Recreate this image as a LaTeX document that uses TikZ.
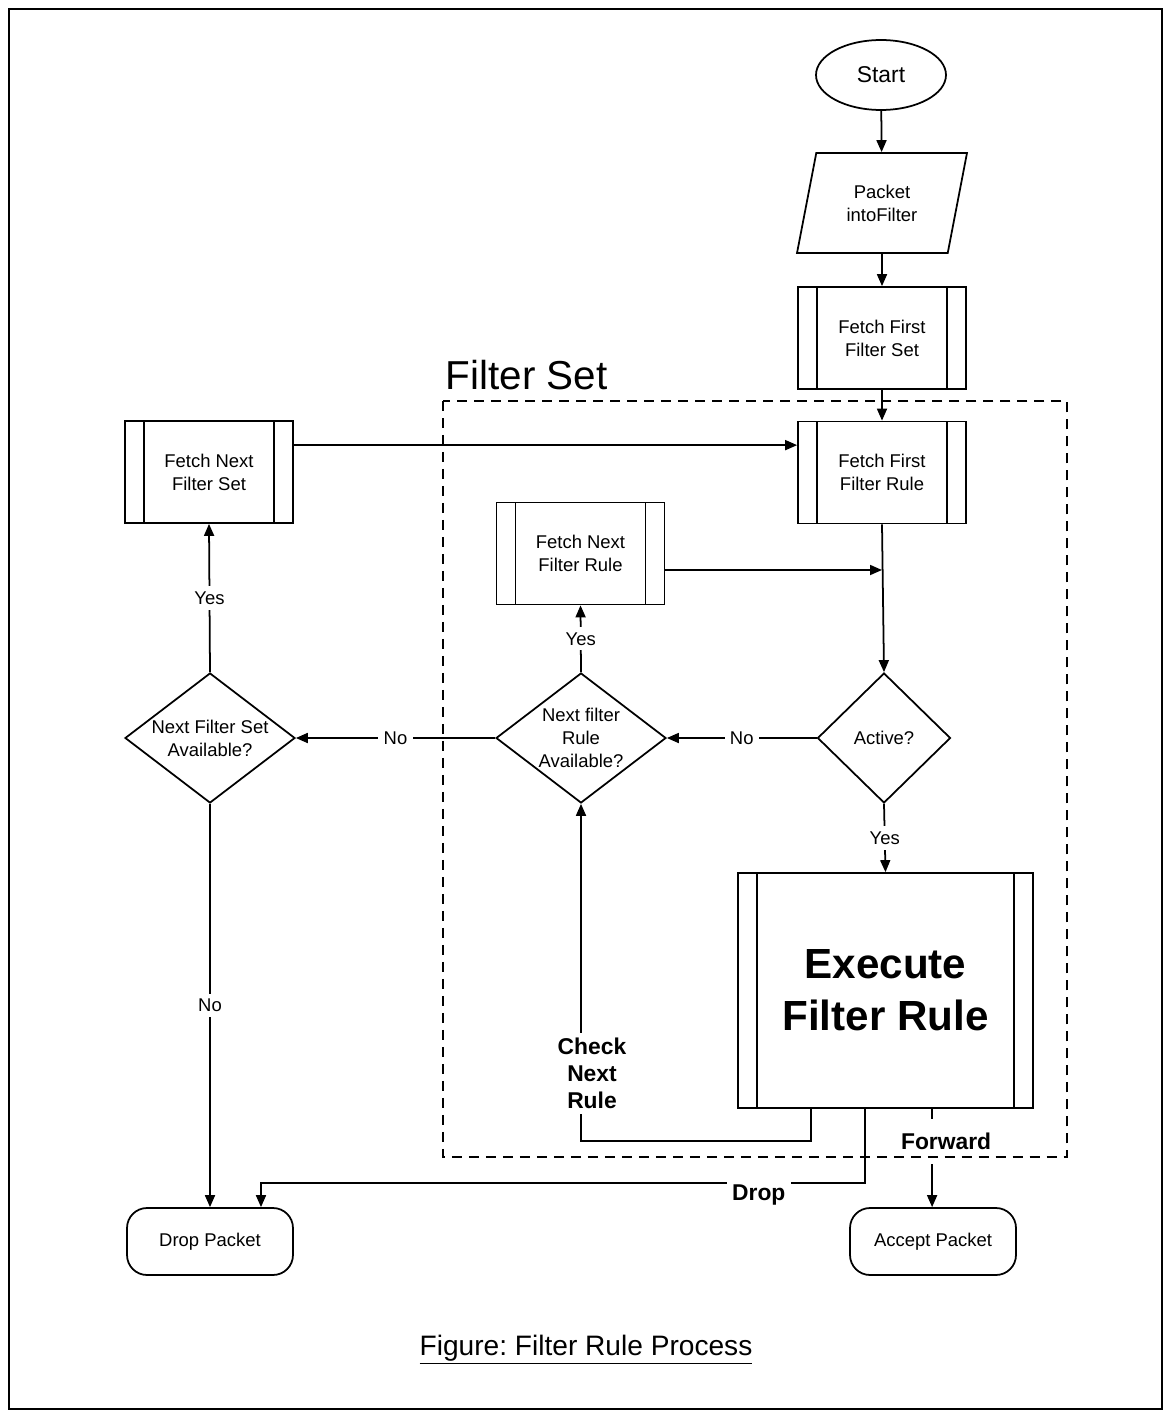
\documentclass[tikz,border=0pt]{standalone}
\usepackage{fontspec}
\setmainfont{Liberation Sans}
\usetikzlibrary{shapes.geometric, arrows.meta}

\begin{document}
\begin{tikzpicture}[x=0.02cm, y=-0.02cm, line width=1pt,
    >={Triangle[length=0.24cm,width=0.2cm]},
    every node/.style={font=\fontsize{10.5}{13}\selectfont},
    startnode/.style={draw, ellipse, minimum width=2.6cm, minimum height=1.4cm, font=\fontsize{13}{15}\selectfont},
    iobox/.style={draw, trapezium, trapezium left angle=78.7, trapezium right angle=101.3, trapezium stretches body,
      minimum width=3.4cm, minimum height=2cm, align=center, inner xsep=0pt, inner ysep=0.6cm},
    procbox/.style={draw, align=center, inner sep=0pt, minimum width=3.36cm, minimum height=2.04cm,
      path picture={\draw ([xshift=0.38cm]path picture bounding box.north west) -- ([xshift=0.38cm]path picture bounding box.south west)
        ([xshift=-0.38cm]path picture bounding box.north east) -- ([xshift=-0.38cm]path picture bounding box.south east);}},
    decision/.style={draw, diamond, inner sep=0pt, minimum width=3.4cm, minimum height=2.6cm},
    endbox/.style={draw, rounded corners=0.4cm, minimum width=3.32cm, minimum height=1.34cm},
    lbl/.style={fill=white, inner sep=3pt},
    boldlbl/.style={fill=white, inner sep=3pt, align=center, font=\bfseries\fontsize{13}{15.5}\selectfont}]

  \useasboundingbox (0,0) rectangle (1170,1416);
  \draw[line width=0.9pt] (9,9) rectangle (1162,1409);

  % main column
  \node[startnode] (start) at (881,75) {Start};
  \node[iobox] (packet) at (882,203) {Packet\\intoFilter};
  \node[procbox] (fffs) at (882,338) {Fetch First\\Filter Set};
  \node[procbox] (fffr) at (882,472.5) {Fetch First\\Filter Rule};
  \node[decision, minimum width=2.66cm] (active) at (884,738) {};
  \node (activetxt) at (active) {Active?};
  \node[procbox, minimum width=5.9cm, minimum height=4.7cm, font=\bfseries\fontsize{24}{29.5}\selectfont] (exec) at (885.5,990.5) {Execute\\Filter Rule};

  % next rule / next set
  \node[procbox] (fnfr) at (580.5,553.5) {Fetch Next\\Filter Rule};
  \node[decision] (nfra) at (581,738) {};
  \node[align=center] (nfratxt) at (nfra) {Next filter\\Rule\\Available?};
  \node[procbox] (fnfs) at (209,472) {Fetch Next\\Filter Set};
  \node[decision] (nfsa) at (210,738) {};
  \node[align=center] (nfsatxt) at (nfsa) {Next Filter Set\\Available?};

  % end points
  \node[endbox] (drop) at (210,1241.5) {Drop Packet};
  \node[endbox] (accept) at (933,1241.5) {Accept Packet};

  \node[anchor=base west, inner sep=0pt, font=\fontsize{23}{27}\selectfont] (fstitle) at (445,389) {Filter Set};
  \node[font=\fontsize{16}{19}\selectfont] (caption) at (586,1350) {\underline{Figure:\ Filter Rule Process}};

  \path ([yshift=-0.5cm]fnfs.north east) coordinate (fnfsout)
        ([yshift=-0.33cm]fnfr.east) coordinate (fnfrout)
        ([xshift=1.48cm]exec.south west) coordinate (chkout)
        ([xshift=2.56cm]exec.south west) coordinate (dropout)
        ([xshift=3.9cm]exec.south west) coordinate (fwdout)
        ([xshift=1.02cm]drop.north) coordinate (dropin);

  \draw[->] (start) -- (packet);
  \draw[->] (packet) -- (fffs);
  \draw[->] (fffs) -- (fffr);
  \draw[->] (fnfsout) -- (fnfsout -| fffr.west);
  \draw[->] (fffr.south) -- (active.north);
  \draw[->] (fnfrout) -- (fnfrout -| fffr.south);

  \draw[->] (active.west) -- (nfra.east) node[lbl, midway] {No};
  \draw[->] (nfra.west) -- (nfsa.east) node[lbl, midway] {No};
  \draw[->] (nfra.north) -- (fnfr.south) node[lbl, midway] {Yes};
  \draw[->] (nfsa.north) -- (fnfs.south) node[lbl, midway] {Yes};
  \draw[->] (nfsa.south) -- (drop.north) node[lbl, midway] {No};
  \draw[->] (active.south) -- (exec.north) node[lbl, midway] {Yes};

  \draw[->] (chkout) -- ++(0,32) -| (nfra.south) node[boldlbl, pos=0.6, xshift=0.22cm] {Check\\Next\\Rule};
  \draw[->] (dropout) -- ++(0,74) -| (dropin) node[boldlbl, pos=0.088, yshift=-0.24cm] {Drop};
  \draw[->] (fwdout) -- (fwdout |- accept.north) node[boldlbl, pos=0.33, xshift=0.28cm, minimum height=0.9cm] {Forward};

  % filter set frame
  \draw[line width=0.9pt, dash pattern=on 0.2cm off 0.14cm] (443,401) rectangle (1067,1157);
\end{tikzpicture}
\end{document}
